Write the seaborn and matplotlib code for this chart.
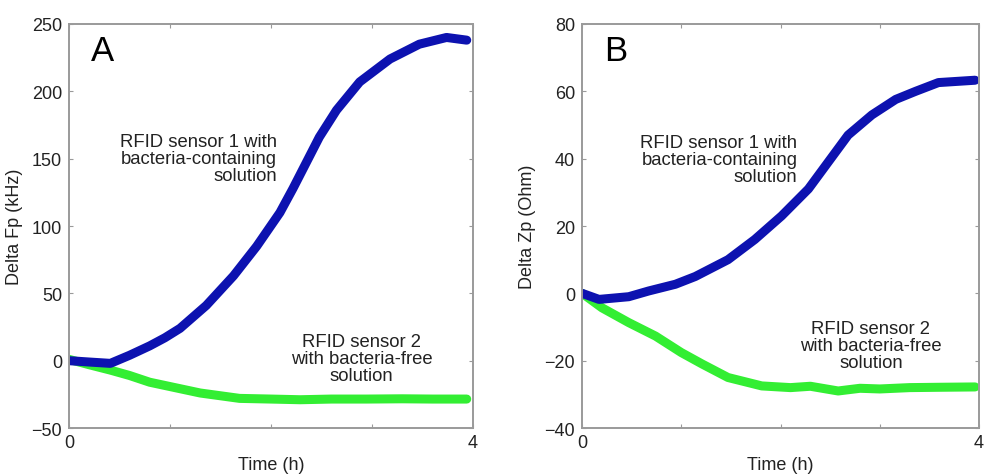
import matplotlib
matplotlib.use("Agg")
import matplotlib.pyplot as plt
import numpy as np
import pandas as pd
import seaborn as sns

# ---------------------------------------------------------------------------
# Data (time in hours)
# ---------------------------------------------------------------------------

a_time_s1 = [0.0, 0.2, 0.41, 0.6, 0.80, 0.95, 1.10, 1.36, 1.63, 1.86, 2.09, 2.22,
             2.35, 2.48, 2.65, 2.88, 3.18, 3.47, 3.74, 3.94]
a_fp_s1 = [0, -1, -2, 4, 11, 17, 24, 41, 63, 85, 110, 128,
           147, 166, 186, 207, 224, 235, 240, 238]

a_time_s2 = [0.0, 0.2, 0.41, 0.6, 0.80, 1.05, 1.30, 1.69, 2.00, 2.29, 2.6, 2.95,
             3.3, 3.6, 3.94]
a_fp_s2 = [1, -3, -7, -11, -16, -20, -24, -28, -28.5, -29, -28.5, -28.5,
           -28.3, -28.5, -28.5]

b_time_s1 = [0.0, 0.17, 0.47, 0.67, 0.94, 1.14, 1.47, 1.74, 2.01, 2.28, 2.48,
             2.68, 2.92, 3.16, 3.36, 3.59, 3.96]
b_zp_s1 = [0, -1.8, -1, 0.7, 2.7, 5, 10, 16, 23, 31, 39,
           47, 53, 57.6, 60, 62.6, 63.3]

b_time_s2 = [0.0, 0.2, 0.47, 0.74, 1.0, 1.21, 1.47, 1.81, 2.1, 2.3, 2.48, 2.58,
             2.8, 3.0, 3.3, 3.6, 3.96]
b_zp_s2 = [0, -4.3, -8.7, -12.7, -17.6, -21, -25, -27.5, -28, -27.6, -28.5, -29,
           -28.2, -28.4, -28, -27.9, -27.8]

BLUE = "#0d12b0"
GREEN = "#33ee33"
TEXT = "#222222"
FRAME = "#9a9a9a"

sns.set_style("white")
plt.rcParams["font.family"] = ["Liberation Sans", "DejaVu Sans"]


def make_panel(ax, t1, y1, t2, y2, ylim, yticks, ylabel, letter, s1_xy, s2_xy):
    df = pd.DataFrame({
        "time": list(t1) + list(t2),
        "value": list(y1) + list(y2),
        "sensor": ["s1"] * len(t1) + ["s2"] * len(t2),
    })
    sns.lineplot(data=df, x="time", y="value", hue="sensor",
                 palette={"s1": BLUE, "s2": GREEN}, hue_order=["s2", "s1"],
                 linewidth=6.5, legend=False, ax=ax,
                 solid_capstyle="round", solid_joinstyle="round")
    ax.set_xlim(0, 4)
    ax.set_ylim(*ylim)
    ax.set_yticks(yticks)
    ax.set_xticks([0, 1, 2, 3, 4])
    ax.set_xticklabels(["0", "", "", "", "4"])
    ax.tick_params(axis="both", direction="in", length=3, width=0.8,
                   color=FRAME, labelsize=13, labelcolor=TEXT,
                   left=True, right=True, top=True, bottom=True)
    ax.tick_params(axis="x", pad=4)
    ax.tick_params(axis="y", pad=5)
    for sp in ax.spines.values():
        sp.set_color(FRAME)
        sp.set_linewidth(1.4)
    ax.set_xlabel("Time (h)", fontsize=13, color=TEXT, labelpad=4)
    ax.set_ylabel(ylabel, fontsize=13, color=TEXT, labelpad=6)
    ax.text(0.055, 0.975, letter, transform=ax.transAxes, fontsize=25,
            color="black", va="top", ha="left")
    ax.text(*s1_xy, "RFID sensor 1 with\nbacteria-containing\nsolution",
            fontsize=13.3, color=TEXT, ha="right", va="center", linespacing=1.0)
    ax.text(*s2_xy, "RFID sensor 2\nwith bacteria-free\nsolution",
            fontsize=13.3, color=TEXT, ha="center", va="center", linespacing=1.0)


fig = plt.figure(figsize=(9.85, 4.77), dpi=100)
ax_a = fig.add_axes([0.070, 0.1006, 0.410, 0.847])
ax_b = fig.add_axes([0.591, 0.1006, 0.403, 0.847])

make_panel(ax_a, a_time_s1, a_fp_s1, a_time_s2, a_fp_s2,
           (-50, 250), [-50, 0, 50, 100, 150, 200, 250], "Delta Fp (kHz)", "A",
           (2.06, 150), (2.90, 1.5))
make_panel(ax_b, b_time_s1, b_zp_s1, b_time_s2, b_zp_s2,
           (-40, 80), [-40, -20, 0, 20, 40, 60, 80], "Delta Zp (Ohm)", "B",
           (2.17, 39.8), (2.91, -15.4))

fig.savefig("out.png", dpi=100)
